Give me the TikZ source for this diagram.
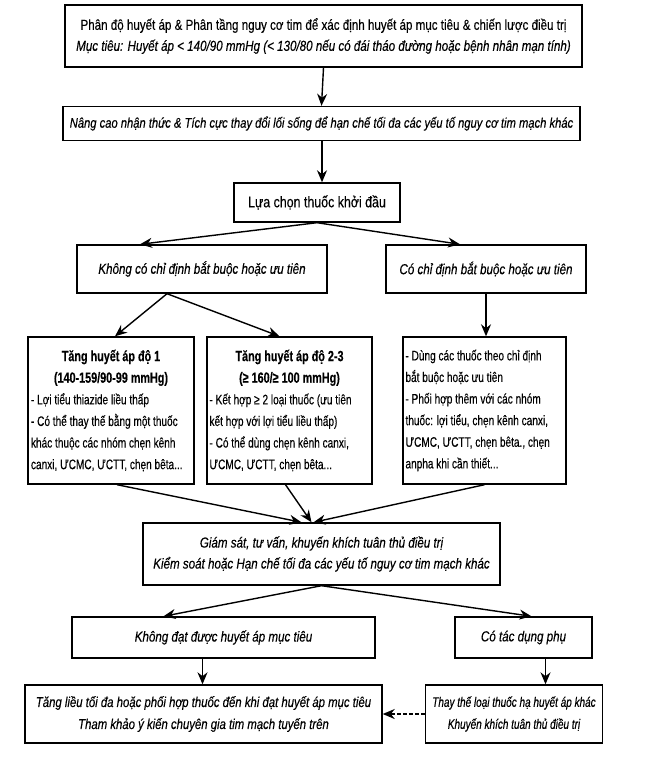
\documentclass[tikz,border=0pt]{standalone}
\usepackage{fontspec}
\setmainfont[FakeStretch=0.8,FakeBold=0.3]{Liberation Sans}
\newfontfamily\nf[FakeStretch=0.73,FakeBold=0.3]{Liberation Sans}
\usetikzlibrary{arrows.meta,calc}
\tikzset{
  box/.style={draw, line width=1.4pt, inner sep=0pt, align=center, font=\fontsize{14.5}{21}\selectfont},
  itbox/.style={box, font=\fontsize{14.5}{21}\selectfont\itshape},
  nbox/.style={box, font=\nf\fontsize{13.8}{21.6}\selectfont},
  arr/.style={line width=1.4pt, -{Stealth[length=12pt,width=10pt]}},
  dasharr/.style={line width=1.6pt, dash pattern=on 3.5pt off 2.5pt, -{Stealth[length=12pt,width=10pt]}}
}
\newcommand{\hdr}[1]{{\fontsize{14.8}{21.6}\selectfont\bfseries #1}}
\begin{document}
\begin{tikzpicture}[x=1pt,y=-1pt]
\useasboundingbox (0,0) rectangle (659,759);
\node[box, minimum width=517pt, minimum height=62pt] (b1) at (323.5,36)
  {Phân độ huyết áp \& Phân tầng nguy cơ tim để xác định huyết áp mục tiêu \& chiến lược điều trị\\
   \itshape Mục tiêu: Huyết áp < 140/90 mmHg (< 130/80 nếu có đái tháo đường hoặc bệnh nhân mạn tính)};
\node[itbox, minimum width=517pt, minimum height=34pt, font=\fontsize{14}{20}\selectfont\itshape] (b2) at (321.5,123.5)
  {Nâng cao nhận thức \& Tích cực thay đổi lối sống để hạn chế tối đa các yếu tố nguy cơ tim mạch khác};
\node[box, minimum width=166pt, minimum height=39pt, font=\fontsize{15.5}{20}\selectfont] (b3) at (317,202.5)
  {Lựa chọn thuốc khởi đầu};
\node[itbox, minimum width=250pt, minimum height=48pt] (b4) at (202,269)
  {Không có chỉ định bắt buộc hoặc ưu tiên};
\node[itbox, minimum width=200pt, minimum height=48pt] (b5) at (486,269)
  {Có chỉ định bắt buộc hoặc ưu tiên};
\node[nbox, minimum width=166pt, minimum height=147pt] (b6) at (111,410.5)
  {\parbox{160pt}{\centering \hdr{Tăng huyết áp độ 1}\\\hdr{(140-159/90-99 mmHg)}\par\raggedright
   - Lợi tiểu thiazide liều thấp\\- Có thể thay thế bằng một thuốc\\khác thuộc các nhóm chẹn kênh\\canxi, ƯCMC, ƯCTT, chẹn bêta...}};
\node[nbox, minimum width=165pt, minimum height=147pt] (b7) at (289.5,410.5)
  {\parbox{160pt}{\centering \hdr{Tăng huyết áp độ 2-3}\\\hdr{(≥ 160/≥ 100 mmHg)}\par\raggedright
   - Kết hợp ≥ 2 loại thuốc (ưu tiên\\kết hợp với lợi tiểu liều thấp)\\- Có thể dùng chẹn kênh canxi,\\ƯCMC, ƯCTT, chẹn bêta...}};
\node[nbox, minimum width=163pt, minimum height=147pt] (b8) at (484.5,410.5)
  {\parbox{158pt}{\raggedright - Dùng các thuốc theo chỉ định\\bắt buộc hoặc ưu tiên\\- Phối hợp thêm với các nhóm\\thuốc: lợi tiểu, chẹn kênh canxi,\\ƯCMC, ƯCTT, chẹn bêta., chẹn\\anpha khi cần thiết...}};
\node[itbox, minimum width=357pt, minimum height=62pt] (b9) at (321.5,554)
  {Giám sát, tư vấn, khuyến khích tuân thủ điều trị\\Kiểm soát hoặc Hạn chế tối đa các yếu tố nguy cơ tim mạch khác};
\node[itbox, minimum width=303pt, minimum height=41pt] (b10) at (223.5,637.5)
  {Không đạt được huyết áp mục tiêu};
\node[itbox, minimum width=137pt, minimum height=41pt] (b11) at (523.5,637.5)
  {Có tác dụng phụ};
\node[itbox, minimum width=357pt, minimum height=58pt, font=\fontsize{14.2}{22}\selectfont\itshape] (b12) at (203.5,714)
  {Tăng liều tối đa hoặc phối hợp thuốc đến khi đạt huyết áp mục tiêu\\Tham khảo ý kiến chuyên gia tim mạch tuyến trên};
\node[itbox, minimum width=177pt, minimum height=58pt, font=\nf\fontsize{13.7}{22}\selectfont\itshape] (b13) at (514,714)
  {Thay thế loại thuốc hạ huyết áp khác\\Khuyến khích tuân thủ điều trị};
% connectors
\draw[arr] (b1.south) -- (b2.north);
\draw[arr] ([xshift=0.5pt]b2.south) -- ([xshift=5pt]b3.north);
\draw[arr] (b3.south) -- ([xshift=-62pt]b4.north);
\draw[arr] (b3.south) -- ([xshift=-26pt]b5.north);
\draw[arr] ([xshift=-35pt]b4.south) -- ([xshift=4pt]b6.north);
\draw[arr] ([xshift=-35pt]b4.south) -- ([xshift=-10pt]b7.north);
\draw[arr] (b5.south) -- (b5.south |- b8.north);
\draw[arr] ([xshift=6pt]b6.south) -- ([xshift=-20pt]b9.north);
\draw[arr] ([xshift=-4pt]b7.south) -- ([xshift=-10pt]b9.north);
\draw[arr] ([xshift=0pt]b8.south) -- ([xshift=-8pt]b9.north);
\draw[arr] (b9.south) -- ([xshift=-60pt]b10.north);
\draw[arr] (b9.south) -- ([xshift=8pt]b11.north);
\draw[arr] ([xshift=-21pt]b10.south) -- ([xshift=-21pt]b10.south |- b12.north);
\draw[arr] ([xshift=22pt]b11.south) -- ([xshift=22pt]b11.south |- b13.north);
\draw[dasharr] (b13.west) -- (b12.east);
\end{tikzpicture}
\end{document}
